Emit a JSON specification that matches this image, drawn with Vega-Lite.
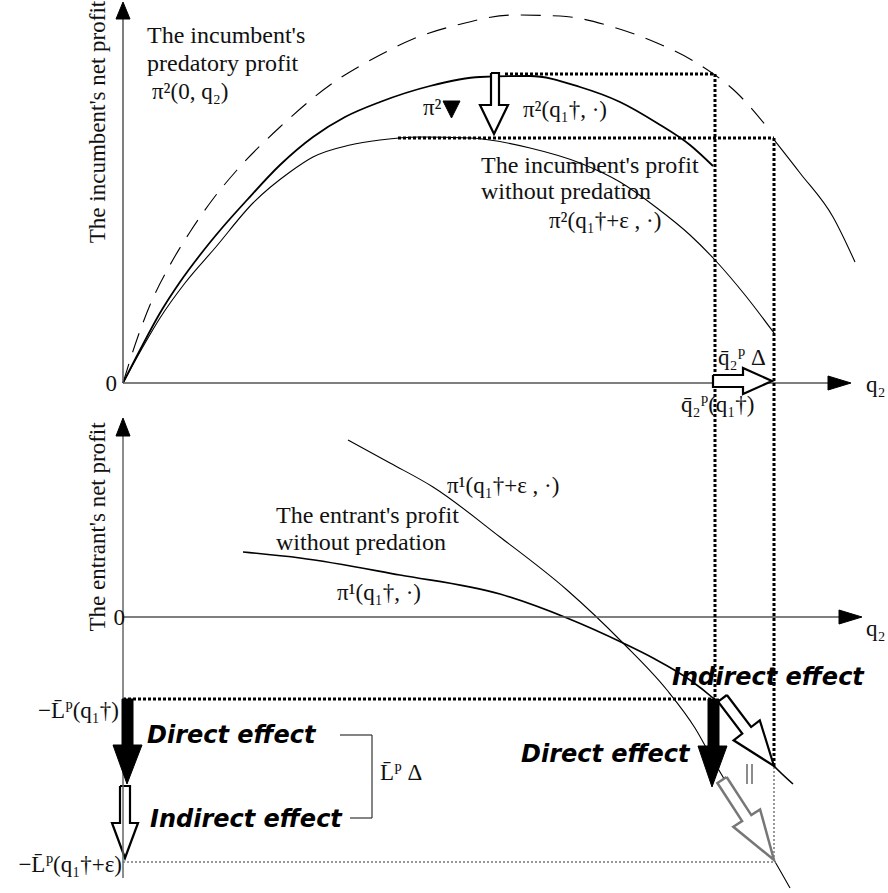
{
 "$schema": "https://vega.github.io/schema/vega-lite/v6.json",
 "width": 888, "height": 893, "padding": 0,
 "autosize": {"type": "fit", "contains": "padding"},
 "background": "white",
 "config": {"view": {"stroke": null}},
 "datasets": {
  "curves": [
   {"id":"a","x":123,"y":383},{"id":"a","x":140,"y":350},{"id":"a","x":160,"y":313},{"id":"a","x":180,"y":282},{"id":"a","x":200,"y":255},{"id":"a","x":222,"y":228},{"id":"a","x":247,"y":200},{"id":"a","x":280,"y":165},{"id":"a","x":313,"y":137},{"id":"a","x":345,"y":117},{"id":"a","x":380,"y":102},{"id":"a","x":430,"y":86},{"id":"a","x":480,"y":77},{"id":"a","x":530,"y":76},{"id":"a","x":580,"y":87},{"id":"a","x":620,"y":102},{"id":"a","x":657,"y":123},{"id":"a","x":690,"y":145},{"id":"a","x":713,"y":166},
   {"id":"b","x":123,"y":383},{"id":"b","x":140,"y":352},{"id":"b","x":160,"y":318},{"id":"b","x":185,"y":283},{"id":"b","x":215,"y":248},{"id":"b","x":253,"y":203},{"id":"b","x":290,"y":172},{"id":"b","x":313,"y":157},{"id":"b","x":350,"y":145},{"id":"b","x":380,"y":140},{"id":"b","x":420,"y":137},{"id":"b","x":470,"y":138},{"id":"b","x":530,"y":148},{"id":"b","x":580,"y":163},{"id":"b","x":620,"y":182},{"id":"b","x":657,"y":208},{"id":"b","x":690,"y":235},{"id":"b","x":715,"y":260},{"id":"b","x":745,"y":295},{"id":"b","x":774,"y":333},
   {"id":"c","x":123,"y":383},{"id":"c","x":135,"y":345},{"id":"c","x":150,"y":305},{"id":"c","x":170,"y":265},{"id":"c","x":190,"y":232},{"id":"c","x":213,"y":199},{"id":"c","x":237,"y":170},{"id":"c","x":280,"y":127},{"id":"c","x":330,"y":85},{"id":"c","x":380,"y":55},{"id":"c","x":413,"y":39},{"id":"c","x":457,"y":25},{"id":"c","x":513,"y":15},{"id":"c","x":560,"y":16},{"id":"c","x":613,"y":27},{"id":"c","x":657,"y":43},{"id":"c","x":700,"y":65},{"id":"c","x":737,"y":93},{"id":"c","x":767,"y":127},
   {"id":"t","x":775,"y":141},{"id":"t","x":800,"y":173},{"id":"t","x":833,"y":217},{"id":"t","x":855,"y":262},
   {"id":"d","x":348,"y":440},{"id":"d","x":390,"y":463},{"id":"d","x":433,"y":487},{"id":"d","x":500,"y":537},{"id":"d","x":567,"y":590},{"id":"d","x":623,"y":643},{"id":"d","x":667,"y":690},{"id":"d","x":695,"y":728},{"id":"d","x":713,"y":760},{"id":"d","x":743,"y":810},{"id":"d","x":774,"y":860},{"id":"d","x":790,"y":888},
   {"id":"e","x":243,"y":552},{"id":"e","x":300,"y":558},{"id":"e","x":400,"y":575},{"id":"e","x":500,"y":594},{"id":"e","x":567,"y":618},{"id":"e","x":623,"y":643},{"id":"e","x":653,"y":658},{"id":"e","x":690,"y":680},{"id":"e","x":713,"y":698},{"id":"e","x":745,"y":730},{"id":"e","x":774,"y":766},{"id":"e","x":793,"y":784}
  ],
  "rules": [
   {"g":"axis","x":123,"y":18,"x2":123,"y2":383},
   {"g":"axis","x":123,"y":383,"x2":830,"y2":383},
   {"g":"axisL","x":123,"y":435,"x2":123,"y2":878},
   {"g":"axis","x":123,"y":617,"x2":840,"y2":617},
   {"g":"dot","x":505,"y":74,"x2":715,"y2":74},
   {"g":"dot","x":398,"y":138,"x2":774,"y2":138},
   {"g":"dot","x":715,"y":74,"x2":715,"y2":699},
   {"g":"dot","x":774,"y":138,"x2":774,"y2":767},
   {"g":"dot","x":123,"y":699,"x2":715,"y2":699},
   {"g":"thin","x":774,"y":767,"x2":774,"y2":862},
   {"g":"thin","x":123,"y":862,"x2":774,"y2":862},
   {"g":"bracket","x":340,"y":735,"x2":372,"y2":735},
   {"g":"bracket","x":372,"y":735,"x2":372,"y2":818},
   {"g":"bracket","x":350,"y":818,"x2":372,"y2":818},
   {"g":"par","x":747,"y":764,"x2":747,"y2":784},
   {"g":"par","x":752,"y":764,"x2":752,"y2":784}
  ],
  "polys": [
   {"id":"ax1","g":"solid","i":0,"x":123,"y":2},{"id":"ax1","g":"solid","i":1,"x":130,"y":19},{"id":"ax1","g":"solid","i":2,"x":116,"y":19},{"id":"ax1","g":"solid","i":3,"x":123,"y":2},
   {"id":"ax2","g":"solid","i":0,"x":851,"y":383},{"id":"ax2","g":"solid","i":1,"x":828,"y":390},{"id":"ax2","g":"solid","i":2,"x":828,"y":376},{"id":"ax2","g":"solid","i":3,"x":851,"y":383},
   {"id":"ax3","g":"solid","i":0,"x":123,"y":418},{"id":"ax3","g":"solid","i":1,"x":130,"y":436},{"id":"ax3","g":"solid","i":2,"x":116,"y":436},{"id":"ax3","g":"solid","i":3,"x":123,"y":418},
   {"id":"ax4","g":"solid","i":0,"x":862,"y":617},{"id":"ax4","g":"solid","i":1,"x":839,"y":624},{"id":"ax4","g":"solid","i":2,"x":839,"y":610},{"id":"ax4","g":"solid","i":3,"x":862,"y":617},
   {"id":"tri","g":"solid","i":0,"x":443,"y":101},{"id":"tri","g":"solid","i":1,"x":460,"y":101},{"id":"tri","g":"solid","i":2,"x":451.5,"y":118},{"id":"tri","g":"solid","i":3,"x":443,"y":101},
   {"id":"d1","g":"solid","i":0,"x":122,"y":699},{"id":"d1","g":"solid","i":1,"x":133,"y":699},{"id":"d1","g":"solid","i":2,"x":133,"y":745},{"id":"d1","g":"solid","i":3,"x":142,"y":745},{"id":"d1","g":"solid","i":4,"x":127,"y":784},{"id":"d1","g":"solid","i":5,"x":113,"y":745},{"id":"d1","g":"solid","i":6,"x":122,"y":745},{"id":"d1","g":"solid","i":7,"x":122,"y":699},
   {"id":"d2","g":"solid","i":0,"x":708,"y":699},{"id":"d2","g":"solid","i":1,"x":719,"y":699},{"id":"d2","g":"solid","i":2,"x":719,"y":746},{"id":"d2","g":"solid","i":3,"x":727,"y":746},{"id":"d2","g":"solid","i":4,"x":712,"y":787},{"id":"d2","g":"solid","i":5,"x":698,"y":746},{"id":"d2","g":"solid","i":6,"x":708,"y":746},{"id":"d2","g":"solid","i":7,"x":708,"y":699},
   {"id":"h1","g":"hollow","i":0,"x":491,"y":73},{"id":"h1","g":"hollow","i":1,"x":499,"y":73},{"id":"h1","g":"hollow","i":2,"x":499,"y":105},{"id":"h1","g":"hollow","i":3,"x":508,"y":105},{"id":"h1","g":"hollow","i":4,"x":494,"y":134},{"id":"h1","g":"hollow","i":5,"x":480,"y":105},{"id":"h1","g":"hollow","i":6,"x":491,"y":105},{"id":"h1","g":"hollow","i":7,"x":491,"y":73},
   {"id":"h2","g":"hollow","i":0,"x":713,"y":375},{"id":"h2","g":"hollow","i":1,"x":743,"y":375},{"id":"h2","g":"hollow","i":2,"x":743,"y":368},{"id":"h2","g":"hollow","i":3,"x":772,"y":381},{"id":"h2","g":"hollow","i":4,"x":743,"y":394},{"id":"h2","g":"hollow","i":5,"x":743,"y":387},{"id":"h2","g":"hollow","i":6,"x":713,"y":387},{"id":"h2","g":"hollow","i":7,"x":713,"y":375},
   {"id":"h3","g":"hollow","i":0,"x":726.9,"y":695},{"id":"h3","g":"hollow","i":1,"x":751.1,"y":727},{"id":"h3","g":"hollow","i":2,"x":759.8,"y":720.3},{"id":"h3","g":"hollow","i":3,"x":774,"y":766},{"id":"h3","g":"hollow","i":4,"x":733.6,"y":740.3},{"id":"h3","g":"hollow","i":5,"x":742.3,"y":733.6},{"id":"h3","g":"hollow","i":6,"x":718.1,"y":701.6},{"id":"h3","g":"hollow","i":7,"x":726.9,"y":695},
   {"id":"h4","g":"hollow","i":0,"x":120,"y":786},{"id":"h4","g":"hollow","i":1,"x":130,"y":786},{"id":"h4","g":"hollow","i":2,"x":130,"y":823},{"id":"h4","g":"hollow","i":3,"x":138,"y":823},{"id":"h4","g":"hollow","i":4,"x":125,"y":858},{"id":"h4","g":"hollow","i":5,"x":112,"y":823},{"id":"h4","g":"hollow","i":6,"x":120,"y":823},{"id":"h4","g":"hollow","i":7,"x":120,"y":786},
   {"id":"g1","g":"gray","i":0,"x":726.6,"y":777},{"id":"g1","g":"gray","i":1,"x":751.3,"y":815.1},{"id":"g1","g":"gray","i":2,"x":760.1,"y":809.4},{"id":"g1","g":"gray","i":3,"x":774,"y":860},{"id":"g1","g":"gray","i":4,"x":733.3,"y":826.8},{"id":"g1","g":"gray","i":5,"x":742.1,"y":821.1},{"id":"g1","g":"gray","i":6,"x":717.4,"y":783},{"id":"g1","g":"gray","i":7,"x":726.6,"y":777}
  ],
  "labels": [
   {"k":"serif","t":"The incumbent's","x":147,"y":43},
   {"k":"serif","t":"predatory profit","x":147,"y":71},
   {"k":"serif","t":"The incumbent's profit","x":481,"y":173},
   {"k":"serif","t":"without predation","x":481,"y":199},
   {"k":"serif","t":"The entrant's profit","x":276,"y":523},
   {"k":"serif","t":"without predation","x":276,"y":550},
   {"k":"math","t":"π²(0, q₂)","x":152,"y":99},
   {"k":"math","t":"π²","x":423,"y":115},
   {"k":"math","t":"π²(q₁†, ·)","x":523,"y":117},
   {"k":"math","t":"π²(q₁†+ε , ·)","x":549,"y":228},
   {"k":"math","t":"q̄₂ᴾ Δ","x":718,"y":365},
   {"k":"math","t":"q̄₂ᴾ(q₁†)","x":681,"y":412},
   {"k":"math","t":"q₂","x":866,"y":392},
   {"k":"math","t":"q₂","x":866,"y":636},
   {"k":"math","t":"π¹(q₁†+ε , ·)","x":447,"y":493},
   {"k":"math","t":"π¹(q₁†, ·)","x":337,"y":600},
   {"k":"math","t":"L̄ᴾ Δ","x":380,"y":780},
   {"k":"mathR","t":"0","x":117,"y":391},
   {"k":"mathR","t":"0","x":125,"y":625},
   {"k":"mathR","t":"−L̄ᴾ(q₁†)","x":119,"y":718},
   {"k":"mathR","t":"−L̄ᴾ(q₁†+ε)","x":122,"y":872},
   {"k":"bold","t":"Direct effect","x":147,"y":743},
   {"k":"bold","t":"Indirect effect","x":150,"y":827},
   {"k":"bold","t":"Direct effect","x":521,"y":762},
   {"k":"bold","t":"Indirect effect","x":672,"y":685},
   {"k":"vtitle","t":"The incumbent's net profit","x":105,"y":122},
   {"k":"vtitle","t":"The entrant's net profit","x":105,"y":527}
  ]
 },
 "encoding": {
  "x": {"field": "x", "type": "quantitative", "scale": {"domain": [0, 888], "nice": false, "zero": false}, "axis": null},
  "y": {"field": "y", "type": "quantitative", "scale": {"domain": [0, 893], "nice": false, "zero": false, "reverse": true}, "axis": null}
 },
 "layer": [
  {"data": {"name": "curves"}, "transform": [{"filter": "datum.id === 'a'"}],
   "mark": {"type": "line", "stroke": "black", "strokeWidth": 1.8, "interpolate": "monotone"},
   "encoding": {"detail": {"field": "id"}}},
  {"data": {"name": "curves"}, "transform": [{"filter": "datum.id === 'b' || datum.id === 't' || datum.id === 'd'"}],
   "mark": {"type": "line", "stroke": "black", "strokeWidth": 1.1, "interpolate": "monotone"},
   "encoding": {"detail": {"field": "id"}}},
  {"data": {"name": "curves"}, "transform": [{"filter": "datum.id === 'c'"}],
   "mark": {"type": "line", "stroke": "black", "strokeWidth": 1.1, "strokeDash": [20, 12], "interpolate": "monotone"},
   "encoding": {"detail": {"field": "id"}}},
  {"data": {"name": "curves"}, "transform": [{"filter": "datum.id === 'e'"}],
   "mark": {"type": "line", "stroke": "black", "strokeWidth": 1.6, "interpolate": "monotone"},
   "encoding": {"detail": {"field": "id"}}},
  {"data": {"name": "rules"}, "transform": [{"filter": "datum.g === 'axis'"}],
   "mark": {"type": "rule", "stroke": "#555", "strokeWidth": 1.5},
   "encoding": {"x2": {"field": "x2"}, "y2": {"field": "y2"}}},
  {"data": {"name": "rules"}, "transform": [{"filter": "datum.g === 'dot'"}],
   "mark": {"type": "rule", "stroke": "black", "strokeWidth": 3, "strokeDash": [3, 2]},
   "encoding": {"x2": {"field": "x2"}, "y2": {"field": "y2"}}},
  {"data": {"name": "rules"}, "transform": [{"filter": "datum.g === 'thin'"}],
   "mark": {"type": "rule", "stroke": "#333", "strokeWidth": 1, "strokeDash": [2, 2]},
   "encoding": {"x2": {"field": "x2"}, "y2": {"field": "y2"}}},
  {"data": {"name": "rules"}, "transform": [{"filter": "datum.g === 'bracket'"}],
   "mark": {"type": "rule", "stroke": "#333", "strokeWidth": 1.2},
   "encoding": {"x2": {"field": "x2"}, "y2": {"field": "y2"}}},
  {"data": {"name": "rules"}, "transform": [{"filter": "datum.g === 'par'"}],
   "mark": {"type": "rule", "stroke": "#666", "strokeWidth": 1.5},
   "encoding": {"x2": {"field": "x2"}, "y2": {"field": "y2"}}},
  {"data": {"name": "polys"}, "transform": [{"filter": "datum.g === 'hollow'"}],
   "mark": {"type": "line", "fill": "white", "stroke": "black", "strokeWidth": 2.2, "interpolate": "linear", "strokeJoin": "miter"},
   "encoding": {"detail": {"field": "id"}, "order": {"field": "i", "type": "quantitative"}}},
  {"data": {"name": "polys"}, "transform": [{"filter": "datum.g === 'gray'"}],
   "mark": {"type": "line", "fill": "white", "stroke": "#777", "strokeWidth": 2.5, "interpolate": "linear", "strokeJoin": "miter"},
   "encoding": {"detail": {"field": "id"}, "order": {"field": "i", "type": "quantitative"}}},
  {"data": {"name": "rules"}, "transform": [{"filter": "datum.g === 'axisL'"}],
   "mark": {"type": "rule", "stroke": "#666", "strokeWidth": 1.5},
   "encoding": {"x2": {"field": "x2"}, "y2": {"field": "y2"}}},
  {"data": {"name": "polys"}, "transform": [{"filter": "datum.g === 'solid'"}],
   "mark": {"type": "line", "fill": "black", "stroke": "black", "strokeWidth": 1, "interpolate": "linear"},
   "encoding": {"detail": {"field": "id"}, "order": {"field": "i", "type": "quantitative"}}},
  {"data": {"name": "labels"}, "transform": [{"filter": "datum.k === 'serif'"}],
   "mark": {"type": "text", "font": "Liberation Serif", "fontSize": 24, "align": "left", "baseline": "alphabetic", "color": "#111"},
   "encoding": {"text": {"field": "t"}}},
  {"data": {"name": "labels"}, "transform": [{"filter": "datum.k === 'math'"}],
   "mark": {"type": "text", "font": "Liberation Serif", "fontSize": 23, "align": "left", "baseline": "alphabetic", "color": "#111"},
   "encoding": {"text": {"field": "t"}}},
  {"data": {"name": "labels"}, "transform": [{"filter": "datum.k === 'mathR'"}],
   "mark": {"type": "text", "font": "Liberation Serif", "fontSize": 23, "align": "right", "baseline": "alphabetic", "color": "#111"},
   "encoding": {"text": {"field": "t"}}},
  {"data": {"name": "labels"}, "transform": [{"filter": "datum.k === 'bold'"}],
   "mark": {"type": "text", "font": "DejaVu Sans", "fontSize": 24, "fontWeight": "bold", "fontStyle": "italic", "align": "left", "baseline": "alphabetic", "color": "black"},
   "encoding": {"text": {"field": "t"}}},
  {"data": {"name": "labels"}, "transform": [{"filter": "datum.k === 'vtitle'"}],
   "mark": {"type": "text", "font": "Liberation Serif", "fontSize": 23, "angle": 270, "align": "center", "baseline": "alphabetic", "color": "#111"},
   "encoding": {"text": {"field": "t"}}}
 ]
}
